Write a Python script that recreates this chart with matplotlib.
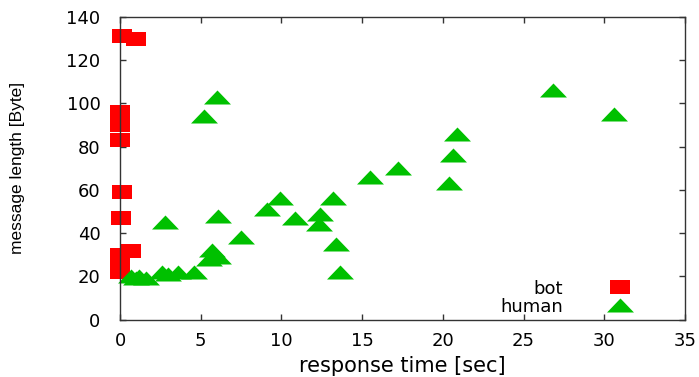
import matplotlib
matplotlib.use("Agg")
import matplotlib.pyplot as plt
from matplotlib.path import Path

plt.rcParams['font.family'] = ['DejaVu Sans']

# --- data ---
bot_x = [0.1, 1.0, 0.0, 0.0, 0.0, 0.15, 0.05, 0.68, 0.0, 0.0, 0.0]
bot_y = [131, 130, 96, 90, 83, 59, 47, 31.5, 30, 26, 22]

human_x = [0.7, 1.2, 1.0, 1.6, 2.6, 3.0, 3.6, 4.6, 2.8, 5.5, 5.7, 6.1,
           6.1, 7.5, 5.2, 6.0, 9.1, 9.9, 10.85, 12.4, 12.3, 13.2, 13.4,
           13.6, 15.5, 17.2, 20.4, 20.6, 20.9, 26.8, 30.6]
human_y = [20, 20, 19, 19, 22, 21, 22, 22, 45, 28, 32, 29,
           48, 38, 94, 103, 51, 56, 47, 49, 44, 56, 35,
           22, 66, 70, 63, 76, 86, 106, 95]

series_labels = ["bot", "human"]
x_ticks = [0, 5, 10, 15, 20, 25, 30, 35]
y_ticks = [0, 20, 40, 60, 80, 100, 120, 140]

# --- markers ---
rect = Path([(-1, -0.714), (1, -0.714), (1, 0.714), (-1, 0.714), (-1, -0.714)],
            [Path.MOVETO, Path.LINETO, Path.LINETO, Path.LINETO, Path.CLOSEPOLY])
tri = Path([(-1, -0.52), (1, -0.52), (0, 0.52), (-1, -0.52)],
           [Path.MOVETO, Path.LINETO, Path.LINETO, Path.CLOSEPOLY])

fig = plt.figure(figsize=(6.99, 3.77), dpi=100)
ax = fig.add_axes([0.1717, 0.1525, 0.8083, 0.8025])

ax.plot(bot_x, bot_y, linestyle='none', marker=rect, markersize=15.1,
        color='#ff0000', markeredgewidth=0, label=series_labels[0], clip_on=False)
ax.plot(human_x, human_y, linestyle='none', marker=tri, markersize=19.4,
        color='#00c000', markeredgewidth=0, label=series_labels[1], clip_on=False)

ax.set_xlim(0, 35)
ax.set_ylim(0, 140)
ax.set_xticks(x_ticks)
ax.set_yticks(y_ticks)
ax.tick_params(direction='in', length=4, width=1, color='#333333',
               top=True, right=True, labelsize=13)
ax.tick_params(axis='x', pad=9)
ax.tick_params(axis='y', pad=14)
for s in ax.spines.values():
    s.set_color('#333333')
    s.set_linewidth(1.0)

ax.set_xlabel("response time [sec]", fontsize=15)
ax.xaxis.set_label_coords(0.5, -0.12)
ax.set_ylabel("message length [Byte]", fontsize=12.5,
              family=['Liberation Sans'])
ax.yaxis.set_label_coords(-0.168, 0.5)

ax.legend(loc='lower right', frameon=False, markerfirst=False, fontsize=13,
          handlelength=2.0, handletextpad=2.15, labelspacing=0.0,
          borderaxespad=0.0, bbox_to_anchor=(0.929, -0.011))

fig.savefig("out.png", dpi=100)
